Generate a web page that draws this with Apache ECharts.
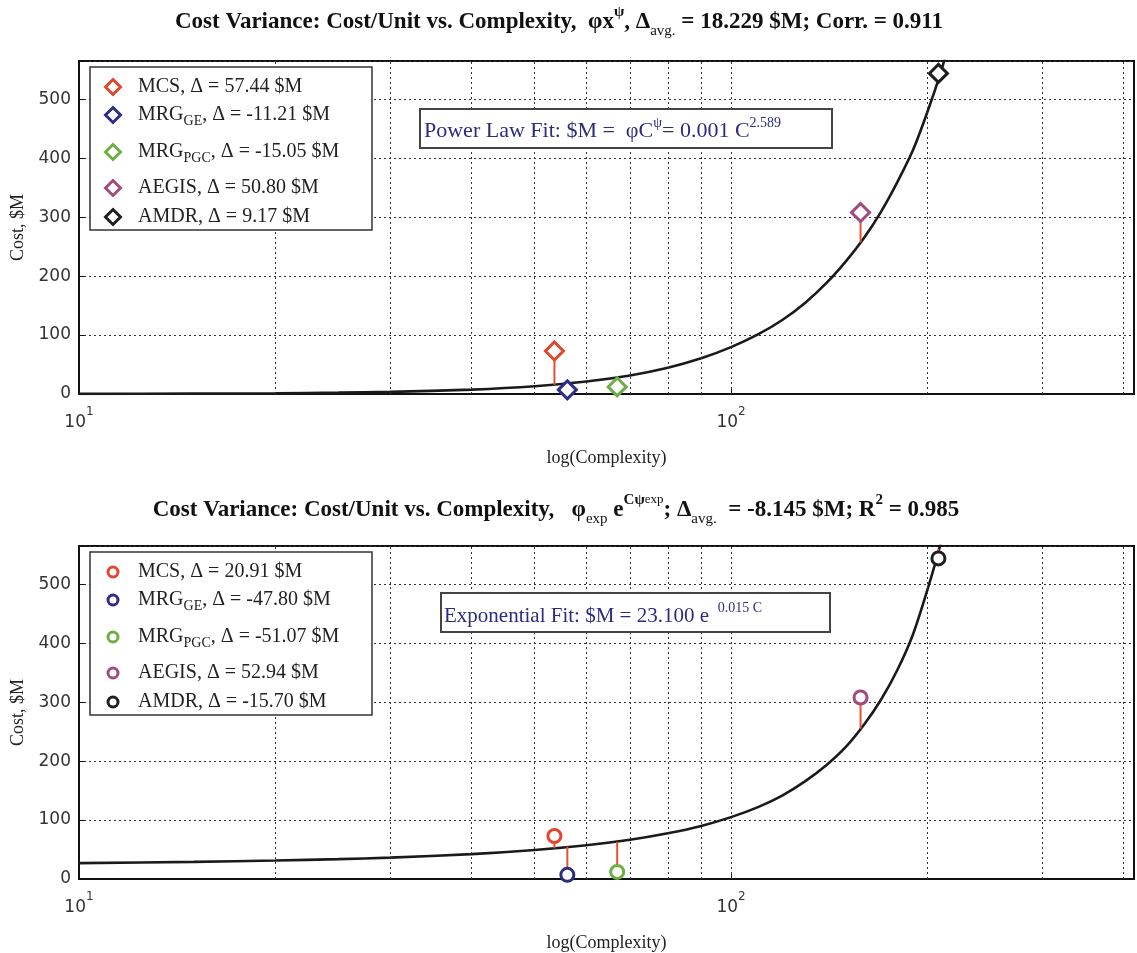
<!DOCTYPE html>
<html><head><meta charset="utf-8">
<script src="https://cdn.jsdelivr.net/npm/echarts@6/dist/echarts.min.js"></script>
<style>html,body{margin:0;padding:0;background:#fff}#c{width:1137px;height:953px}</style>
</head><body><div id="c"></div>
<script>
// ---------- data ----------
const programMain = ['MCS', 'MRG', 'MRG', 'AEGIS', 'AMDR'];
const programSub  = ['', 'GE', 'PGC', '', ''];
const complexity  = [53.6, 56.1, 66.9, 158, 208];
const cost        = [73, 7, 12, 308, 544];
const deltaPower  = [57.44, -11.21, -15.05, 50.80, 9.17];
const deltaExp    = [20.91, -47.80, -51.07, 52.94, -15.70];
const curveX      = [10, 15, 20, 25, 30, 40, 50, 60, 70, 80, 90, 100, 110, 120, 130, 140, 150, 160, 170, 180, 190, 200, 210, 220];
const powerFit    = [0.2, 0.6, 1.3, 2.3, 3.6, 7.5, 13.2, 21.2, 31.5, 44.5, 60.5, 79.5, 101, 126, 155, 188, 225, 265, 310, 360, 413, 478, 548, 625];
const expFit      = [27, 29.1, 31.3, 33.7, 36.3, 42.2, 49.2, 57.2, 66.5, 77.5, 90, 105, 122, 142, 166, 193, 224, 262, 305, 355, 414, 490, 572, 665];
const xGridValues = [20, 30, 40, 50, 60, 70, 80, 90, 100, 200, 300, 400];
const yMax = 565;
const xMin = 10, xMax = 415;

// ---------- style ----------
const colors = ['#e2462c', '#2d2d85', '#6caf45', '#a24a7e', '#1e1e1e'];
const stemColor = '#e8502f';
const serif = '"Liberation Serif", "Times New Roman", serif';
const sans = '"DejaVu Sans", Verdana, sans-serif';
const grids = [
  { left: 79, top: 61, width: 1056, height: 333 },
  { left: 79, top: 546, width: 1056, height: 334 }
];

function xAxisFor(i) {
  return {
    gridIndex: i, type: 'log', logBase: 10, min: xMin, max: xMax,
    name: 'log(Complexity)', nameLocation: 'middle', nameGap: 55,
    nameTextStyle: { fontFamily: serif, fontSize: 18, color: '#222' },
    axisLine: { show: true, lineStyle: { color: '#111', width: 2 } },
    axisTick: { show: true, inside: true, length: 6, lineStyle: { color: '#111' } },
    splitLine: { show: false },
    axisLabel: {
      margin: 12, color: '#333',
      formatter: function (v) {
        const l = Math.log10(v);
        if (Math.abs(l - Math.round(l)) < 1e-6 && (Math.round(l) === 1 || Math.round(l) === 2)) {
          return '{b|10}{s|' + Math.round(l) + '}';
        }
        return '';
      },
      rich: {
        b: { fontFamily: sans, fontSize: 17, color: '#333', lineHeight: 34, verticalAlign: 'middle' },
        s: { fontFamily: sans, fontSize: 12, color: '#333', lineHeight: 12, verticalAlign: 'top' }
      }
    }
  };
}
function yAxisFor(i) {
  return {
    gridIndex: i, type: 'value', min: 0, max: yMax, interval: 100,
    name: 'Cost, $M', nameLocation: 'middle', nameGap: 48,
    nameTextStyle: { fontFamily: serif, fontSize: 18, color: '#222' },
    axisLine: { show: true, lineStyle: { color: '#111', width: 2 } },
    axisTick: { show: true, inside: true, length: 6, lineStyle: { color: '#111' } },
    axisLabel: {
      margin: 8, fontFamily: sans, fontSize: 17, color: '#333',
      formatter: function (v) { return (Math.round(v) % 100 === 0) ? String(Math.round(v)) : ''; }
    },
    splitLine: { show: true, lineStyle: { color: '#333', type: [2, 3], width: 1 } }
  };
}

function seriesFor(gi, fit, deltas, symbol, size) {
  const out = [];
  // vertical grid lines at log-decade subdivisions
  out.push({
    type: 'line', xAxisIndex: gi, yAxisIndex: gi, data: [[xMin, 0]], showSymbol: false,
    lineStyle: { width: 0 }, silent: true, z: 1,
    markLine: {
      silent: true, symbol: 'none', label: { show: false }, animation: false,
      lineStyle: { color: '#333', type: [2, 3], width: 1 },
      data: xGridValues.map(v => ({ xAxis: v }))
    }
  });
  // fit curve
  out.push({
    type: 'line', xAxisIndex: gi, yAxisIndex: gi, smooth: 0.25, symbol: 'none',
    data: curveX.map((x, k) => [x, fit[k]]),
    lineStyle: { color: '#1a1a1a', width: 2.6 }, z: 3, silent: true
  });
  // stems (actual -> fit)
  complexity.forEach((c, k) => {
    out.push({
      type: 'line', xAxisIndex: gi, yAxisIndex: gi, symbol: 'none', silent: true,
      data: [[c, cost[k]], [c, cost[k] - deltas[k]]],
      lineStyle: { color: stemColor, width: 2 }, z: 4
    });
  });
  // markers
  complexity.forEach((c, k) => {
    out.push({
      type: 'scatter', xAxisIndex: gi, yAxisIndex: gi, symbol: symbol, symbolSize: size,
      data: [[c, cost[k]]],
      itemStyle: { color: '#fff', borderColor: colors[k], borderWidth: 3, opacity: 1 }, z: 5
    });
  });
  return out;
}

// ---------- graphic: titles, legends, annotation boxes ----------
const titleRich = {
  t: { fontFamily: serif, fontSize: 23, fontWeight: 'bold', fill: '#111', lineHeight: 34, verticalAlign: 'middle' },
  sup: { fontFamily: serif, fontSize: 15, fontWeight: 'bold', fill: '#111', lineHeight: 15, verticalAlign: 'top' },
  sub: { fontFamily: serif, fontSize: 15, fill: '#111', lineHeight: 15, verticalAlign: 'bottom' },
  mid: { fontFamily: serif, fontSize: 13, fill: '#111', lineHeight: 22, verticalAlign: 'top' }
};
const title1 = '{t|Cost Variance: Cost/Unit vs. Complexity,  φx}{sup|ψ}{t|, Δ}{sub|avg.}{t| = 18.229 $M; Corr. = 0.911}';
const title2 = '{t|Cost Variance: Cost/Unit vs. Complexity,   φ}{sub|exp}{t| e}{sup|Cψ}{mid|exp}{t|; Δ}{sub|avg.}{t|  = -8.145 $M; R}{sup|2}{t| = 0.985}';

const legRich = {
  n: { fontFamily: serif, fontSize: 20, fill: '#222', lineHeight: 26, verticalAlign: 'middle' },
  sub: { fontFamily: serif, fontSize: 14, fill: '#222', lineHeight: 13, verticalAlign: 'bottom' }
};
const legendRowOffsets = [20, 48, 85, 121, 150];

function legendGraphic(top, symbol, deltas) {
  const els = [{
    type: 'rect', shape: { x: 90, y: top, width: 282, height: 163 },
    style: { fill: '#fff', stroke: '#333', lineWidth: 1.5 }, z: 100
  }];
  deltas.forEach((d, k) => {
    const y = top + legendRowOffsets[k];
    if (symbol === 'diamond') {
      els.push({ type: 'polygon', shape: { points: [[113, y - 7.5], [120.5, y], [113, y + 7.5], [105.5, y]] },
        style: { fill: '#fff', stroke: colors[k], lineWidth: 3 }, z: 101 });
    } else {
      els.push({ type: 'circle', shape: { cx: 113, cy: y, r: 5 },
        style: { fill: '#fff', stroke: colors[k], lineWidth: 3 }, z: 101 });
    }
    const txt = '{n|' + programMain[k] + '}' + (programSub[k] ? '{sub|' + programSub[k] + '}' : '') +
      '{n|, Δ = ' + d.toFixed(2) + ' $M}';
    els.push({ type: 'text', x: 138, y: y, z: 101,
      style: { text: txt, rich: legRich, verticalAlign: 'middle', align: 'left' } });
  });
  return els;
}

function boxRich(fs) {
  return {
    n: { fontFamily: serif, fontSize: fs, fill: '#2b2b7f', lineHeight: 30, verticalAlign: 'middle' },
    sup: { fontFamily: serif, fontSize: 14, fill: '#2b2b7f', lineHeight: 13, verticalAlign: 'top' }
  };
}

const graphic = [
  { type: 'text', x: 559, y: 22, z: 100, style: { text: title1, rich: titleRich, align: 'center', verticalAlign: 'middle' } },
  { type: 'text', x: 556, y: 510, z: 100, style: { text: title2, rich: titleRich, align: 'center', verticalAlign: 'middle' } },
  { type: 'rect', shape: { x: 420, y: 109, width: 412, height: 39 }, style: { fill: '#fff', stroke: '#444', lineWidth: 2 }, z: 100 },
  { type: 'text', x: 424, y: 131, z: 101, style: { text: '{n|Power Law Fit: $M =  φC}{sup|ψ}{n|= 0.001 C}{sup|2.589}', rich: boxRich(22), verticalAlign: 'middle', align: 'left' } },
  { type: 'rect', shape: { x: 441, y: 593, width: 389, height: 39 }, style: { fill: '#fff', stroke: '#444', lineWidth: 2 }, z: 100 },
  { type: 'text', x: 444, y: 616, z: 101, style: { text: '{n|Exponential Fit: $M = 23.100 e }{sup| 0.015 C}', rich: boxRich(21), verticalAlign: 'middle', align: 'left' } }
].concat(legendGraphic(67, 'diamond', deltaPower)).concat(legendGraphic(552, 'circle', deltaExp));

const chart = echarts.init(document.getElementById('c'), null, { renderer: 'canvas' });
chart.setOption({
  animation: false,
  backgroundColor: '#fff',
  grid: grids.map(g => Object.assign({ show: true, borderColor: '#111', borderWidth: 2, backgroundColor: 'transparent' }, g)),
  xAxis: [xAxisFor(0), xAxisFor(1)],
  yAxis: [yAxisFor(0), yAxisFor(1)],
  series: seriesFor(0, powerFit, deltaPower, 'diamond', 18).concat(seriesFor(1, expFit, deltaExp, 'circle', 13)),
  graphic: graphic
});
</script>
</body></html>
